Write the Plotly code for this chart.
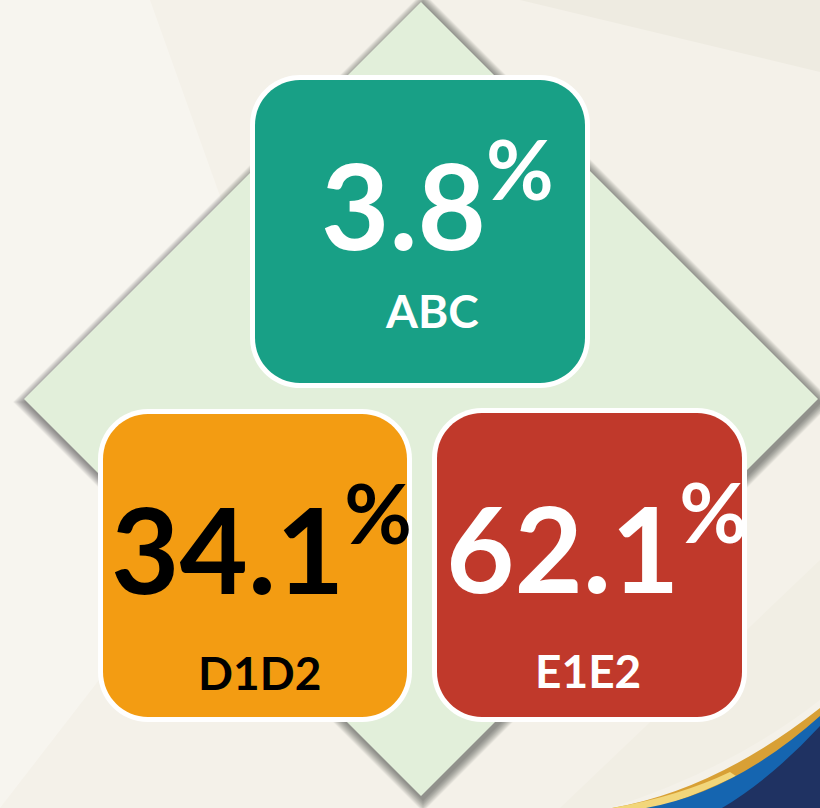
import plotly.graph_objects as go

# ---- data ----
categories = ["ABC", "D1D2", "E1E2"]
values = [3.8, 34.1, 62.1]
box_colors = ["#18a086", "#f39c12", "#c0392b"]
text_colors = ["#ffffff", "#000000", "#ffffff"]

# ---- layout geometry (pixels, y downward) ----
W, H = 820, 808
boxes = [  # inner fill rect x0, y0, x1, y1
    (255, 80, 585, 383),
    (103, 414, 407, 717),
    (437, 413, 742, 717),
]
num_cx = [437, 261, 596]
num_cy = [196, 540, 539]
label_pos = [(432, 310), (259, 672), (588, 670)]

BG = "#f4f1e9"
DIAMOND = "#e2efda"
FONT = "Lato"


def rrect(x0, y0, x1, y1, r):
    k = 0.5523 * r
    return (f"M {x0+r},{y0} L {x1-r},{y0} "
            f"C {x1-r+k},{y0} {x1},{y0+r-k} {x1},{y0+r} "
            f"L {x1},{y1-r} C {x1},{y1-r+k} {x1-r+k},{y1} {x1-r},{y1} "
            f"L {x0+r},{y1} C {x0+r-k},{y1} {x0},{y1-r+k} {x0},{y1-r} "
            f"L {x0},{y0+r} C {x0},{y0+r-k} {x0+r-k},{y0} {x0+r},{y0} Z")


def diamond(cx, cy, rx, ry):
    return f"M {cx},{cy-ry} L {cx+rx},{cy} L {cx},{cy+ry} L {cx-rx},{cy} Z"


shapes = []
# background facets
shapes.append(dict(type="path", path="M 0,0 L 150,0 L 300,420 L 0,808 Z",
                   fillcolor="#f7f5ef", line_width=0, layer="below"))
shapes.append(dict(type="path", path="M 520,0 L 820,0 L 820,72 Z",
                   fillcolor="#eeebe1", line_width=0, layer="below"))
shapes.append(dict(type="path", path="M 560,808 L 820,560 L 820,700 Q 730,770 610,808 Z",
                   fillcolor="#f1eee4", line_width=0, layer="below"))

# diamond shadow
cx, cy, rx, ry = 421, 399, 397, 397
for d in range(9, 0, -1):
    e = d * 1.414
    shapes.append(dict(type="path", path=diamond(cx + 2, cy + 3, rx + e, ry + e),
                       fillcolor="rgba(60,55,50,0.075)", line_width=0))
shapes.append(dict(type="path", path=diamond(cx, cy, rx, ry),
                   fillcolor=DIAMOND, line_width=0))

# swoosh bottom-right
shapes.append(dict(type="path", path="M 612,808 Q 716,790 820,708 L 820,808 Z",
                   fillcolor="#d8a035", line_width=0))
shapes.append(dict(type="path", path="M 612,808 Q 680,796 730,772 L 736,776 Q 690,798 655,808 Z",
                   fillcolor="#f2d67a", line_width=0))
shapes.append(dict(type="path", path="M 646,808 Q 735,792 820,716 L 820,808 Z",
                   fillcolor="#1565b0", line_width=0))
shapes.append(dict(type="path", path="M 722,808 Q 772,778 820,726 L 820,808 Z",
                   fillcolor="#1f3262", line_width=0))

# boxes
for (x0, y0, x1, y1), c in zip(boxes, box_colors):
    shapes.append(dict(type="path", path=rrect(x0 - 5, y0 - 5, x1 + 5, y1 + 5, 50),
                       fillcolor="#ffffff", line_width=0))
    shapes.append(dict(type="path", path=rrect(x0, y0, x1, y1, 45),
                       fillcolor=c, line_width=0))

annotations = []
for i, (cat, v) in enumerate(zip(categories, values)):
    tc = text_colors[i]
    annotations.append(dict(x=num_cx[i], y=num_cy[i], xref="x", yref="y",
                            text=f"{v}<sup>%</sup>", showarrow=False,
                            xanchor="center", yanchor="middle", borderpad=0,
                            font=dict(family=FONT, size=118, color=tc, weight="bold")))
    lx, ly = label_pos[i]
    annotations.append(dict(x=lx, y=ly, xref="x", yref="y", text=cat, showarrow=False,
                            xanchor="center", yanchor="middle",
                            font=dict(family=FONT, size=46, color=tc, weight="bold")))

fig = go.Figure()
fig.update_layout(
    width=W, height=H, margin=dict(l=0, r=0, t=0, b=0),
    paper_bgcolor=BG, plot_bgcolor=BG,
    xaxis=dict(range=[0, W], visible=False, fixedrange=True),
    yaxis=dict(range=[H, 0], visible=False, fixedrange=True),
    shapes=shapes, annotations=annotations, showlegend=False,
)
fig.write_html("out.html", config={"displayModeBar": False})

# remove the default page margin so the figure sits at the window origin
with open("out.html", encoding="utf-8") as f:
    html = f.read()
html = html.replace("<body>", '<body style="margin:0;overflow:hidden">', 1)
with open("out.html", "w", encoding="utf-8") as f:
    f.write(html)
